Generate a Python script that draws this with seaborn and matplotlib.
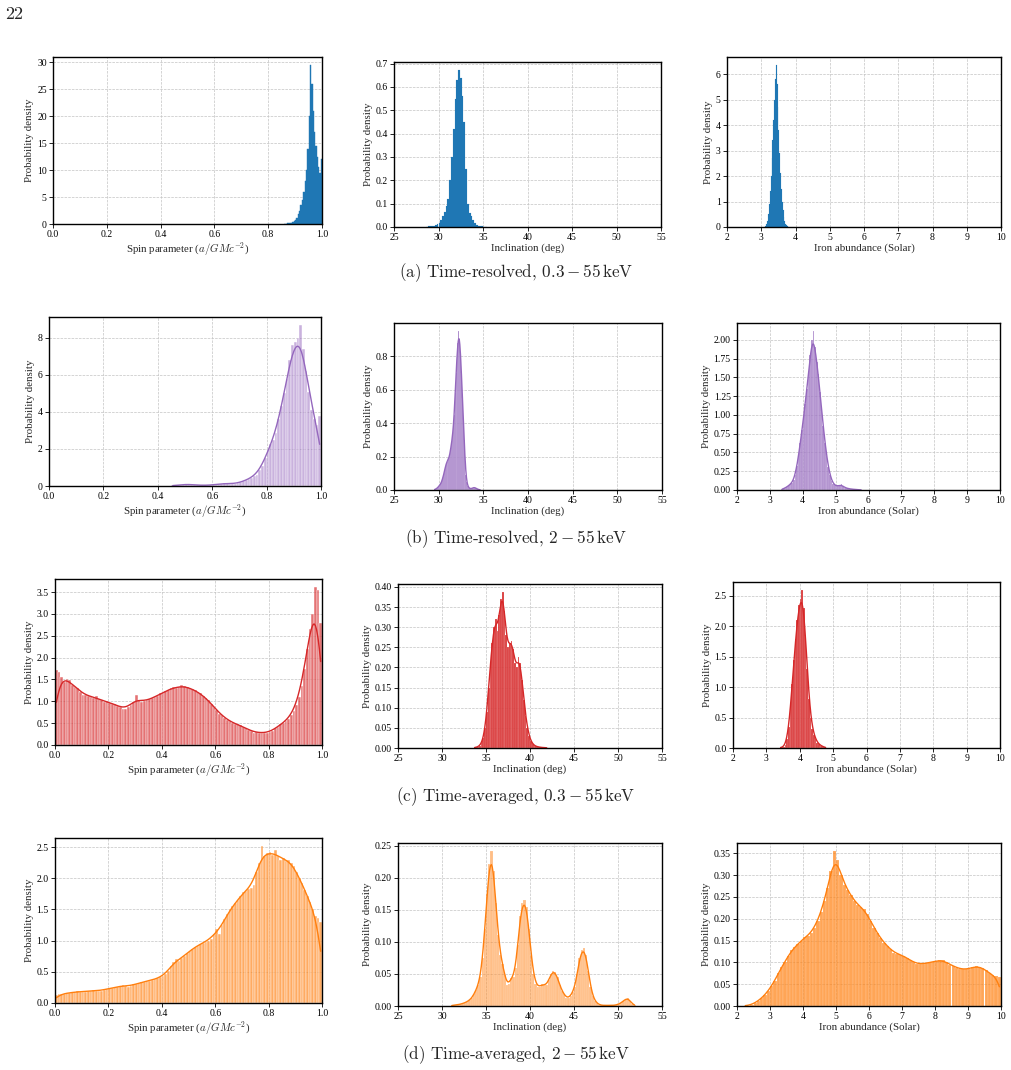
import numpy as np
import matplotlib
matplotlib.use('Agg')
import matplotlib.pyplot as plt
from matplotlib.ticker import MultipleLocator
import seaborn as sns

# Densités (histogrammes des postérieurs)
# chaque panneau : début du premier bin, largeur des bins, densité par bin

# (a) Time-resolved, 0.3 - 55 keV
a_spin_start, a_spin_width = 0.86, 0.005
a_spin_dens = [0.05, 0.07, 0.1, 0.12, 0.15, 0.2, 0.3, 0.5, 0.8, 1.2, 1.8, 2.5, 3.5, 4.5,
               6.0, 8.0, 10.0, 14.0, 20.0, 29.5, 26.0, 21.0, 17.0, 14.5, 12.5, 10.5, 9.5, 12.0]
a_incl_start, a_incl_width = 28.6, 0.2
a_incl_dens = [0.002, 0.003, 0.004, 0.005, 0.006, 0.008, 0.012, 0.018, 0.028, 0.045, 0.065,
               0.09, 0.12, 0.2, 0.3, 0.42, 0.55, 0.63, 0.673, 0.64, 0.56, 0.45, 0.25, 0.1,
               0.06, 0.045, 0.03, 0.018, 0.01, 0.006, 0.004, 0.003, 0.002, 0.001]
a_fe_start, a_fe_width = 3.1, 0.025
a_fe_dens = [0.02, 0.05, 0.12, 0.25, 0.5, 0.9, 1.4, 2.0, 2.7, 3.4, 4.2, 5.0, 5.8, 6.35,
             5.6, 4.7, 3.8, 2.9, 2.1, 1.5, 1.0, 0.65, 0.4, 0.22, 0.12, 0.06, 0.03, 0.01]

# (b) Time-resolved, 2 - 55 keV
b_spin_start, b_spin_width = 0.45, 0.01
b_spin_dens = [0.03, 0.03, 0.04, 0.05, 0.08, 0.12, 0.10, 0.07, 0.05, 0.05, 0.04, 0.04, 0.03,
               0.04, 0.05, 0.07, 0.08, 0.10, 0.12, 0.14, 0.15, 0.13, 0.11, 0.12, 0.16, 0.2,
               0.26, 0.32, 0.38, 0.45, 0.55, 0.62, 0.85, 1.1, 1.5, 1.95, 2.25, 2.5, 2.85, 3.6,
               4.3, 5.0, 5.8, 6.8, 7.6, 7.8, 8.0, 8.7, 7.4, 6.2, 5.1, 4.1, 3.6, 3.3, 3.8]
b_incl_start, b_incl_width = 29.5, 0.1
b_incl_dens = [0.003, 0.005, 0.008, 0.012, 0.018, 0.025, 0.03, 0.04, 0.05, 0.07, 0.09, 0.11,
               0.14, 0.16, 0.17, 0.18, 0.19, 0.21, 0.25, 0.28, 0.32, 0.38, 0.45, 0.58, 0.70,
               0.80, 0.88, 0.95, 0.90, 0.82, 0.70, 0.55, 0.42, 0.30, 0.18, 0.09, 0.045, 0.025,
               0.015, 0.01, 0.008, 0.008, 0.01, 0.014, 0.015, 0.014, 0.012, 0.008, 0.005,
               0.003, 0.002, 0.001]
b_fe_start, b_fe_width = 3.35, 0.05
b_fe_dens = [0.01, 0.02, 0.03, 0.04, 0.06, 0.08, 0.09, 0.13, 0.2, 0.32, 0.45, 0.62, 0.8, 0.95,
             1.15, 1.35, 1.55, 1.8, 2.0, 2.12, 1.9, 1.7, 1.55, 1.3, 1.05, 0.85, 0.62, 0.45,
             0.3, 0.2, 0.12, 0.08, 0.06, 0.05, 0.05, 0.06, 0.08, 0.05, 0.03, 0.025, 0.02,
             0.015, 0.012, 0.01, 0.008, 0.006, 0.004, 0.003, 0.002]

# (c) Time-averaged, 0.3 - 55 keV
c_spin_start, c_spin_width = 0.0, 0.01
c_spin_dens = [1.72, 1.68, 1.55, 1.45, 1.52, 1.48, 1.38, 1.32, 1.30, 1.22, 1.15, 1.15, 1.12,
               1.10, 1.08, 1.12, 1.05, 1.02, 0.98, 1.0, 0.97, 0.95, 0.93, 0.9, 0.86, 0.82,
               0.83, 0.87, 0.92, 0.98, 1.15, 1.02, 0.98, 1.0, 1.02, 1.05, 1.08, 1.1, 1.13,
               1.18, 1.2, 1.23, 1.27, 1.3, 1.32, 1.3, 1.33, 1.38, 1.35, 1.32, 1.3, 1.28, 1.25,
               1.22, 1.18, 1.12, 1.08, 1.02, 0.95, 0.88, 0.8, 0.72, 0.68, 0.62, 0.58, 0.55,
               0.5, 0.48, 0.47, 0.45, 0.42, 0.38, 0.35, 0.32, 0.28, 0.3, 0.27, 0.28, 0.28,
               0.27, 0.3, 0.33, 0.38, 0.42, 0.48, 0.5, 0.55, 0.6, 0.68, 0.78, 0.92, 1.1, 1.35,
               1.75, 2.2, 2.65, 3.0, 3.62, 3.55, 2.8]
c_incl_start, c_incl_width = 33.6, 0.2
c_incl_dens = [0.001, 0.002, 0.003, 0.006, 0.012, 0.025, 0.05, 0.09, 0.15, 0.21, 0.26, 0.30,
               0.32, 0.29, 0.33, 0.37, 0.388, 0.34, 0.28, 0.25, 0.262, 0.265, 0.245, 0.21,
               0.20, 0.225, 0.21, 0.17, 0.12, 0.08, 0.05, 0.03, 0.017, 0.01, 0.006, 0.004,
               0.003, 0.002, 0.0015, 0.001, 0.001, 0.0005]
c_fe_start, c_fe_width = 3.4, 0.05
c_fe_dens = [0.005, 0.01, 0.02, 0.05, 0.15, 0.35, 0.65, 1.05, 1.45, 1.8, 2.1, 2.35, 2.45, 2.6,
             2.3, 1.85, 1.3, 0.8, 0.5, 0.32, 0.22, 0.14, 0.09, 0.06, 0.04, 0.03, 0.015, 0.005]

# (d) Time-averaged, 2 - 55 keV
d_spin_start, d_spin_width = 0.0, 0.01
d_spin_dens = [0.13, 0.14, 0.15, 0.15, 0.16, 0.16, 0.17, 0.17, 0.2, 0.17, 0.18, 0.18, 0.19,
               0.19, 0.21, 0.2, 0.19, 0.2, 0.21, 0.23, 0.24, 0.24, 0.25, 0.26, 0.27, 0.29,
               0.27, 0.26, 0.28, 0.3, 0.3, 0.32, 0.33, 0.34, 0.35, 0.36, 0.37, 0.38, 0.4, 0.41,
               0.43, 0.46, 0.52, 0.6, 0.66, 0.7, 0.68, 0.72, 0.76, 0.8, 0.84, 0.87, 0.9, 0.92,
               0.95, 0.97, 0.98, 1.0, 1.03, 1.1, 1.18, 1.1, 1.25, 1.35, 1.42, 1.5, 1.55, 1.6,
               1.65, 1.72, 1.78, 1.8, 1.83, 1.85, 1.9, 2.1, 2.25, 2.52, 2.35, 2.4, 2.42, 2.38,
               2.45, 2.35, 2.3, 2.33, 2.28, 2.3, 2.25, 2.2, 2.1, 2.0, 1.92, 1.82, 1.72, 1.62,
               1.5, 1.4, 1.36, 1.3]
d_incl_start, d_incl_width = 31.0, 0.25
d_incl_dens = [0.001, 0.001, 0.002, 0.002, 0.003, 0.004, 0.005, 0.007, 0.009, 0.012, 0.018,
               0.025, 0.033, 0.045, 0.075, 0.12, 0.175, 0.222, 0.242, 0.21, 0.16, 0.11, 0.08,
               0.065, 0.048, 0.032, 0.035, 0.044, 0.045, 0.06, 0.095, 0.14, 0.16, 0.165, 0.155,
               0.12, 0.08, 0.05, 0.035, 0.03, 0.03, 0.034, 0.033, 0.032, 0.04, 0.05, 0.055,
               0.053, 0.045, 0.032, 0.024, 0.018, 0.013, 0.012, 0.016, 0.022, 0.03, 0.05,
               0.075, 0.087, 0.09, 0.08, 0.055, 0.03, 0.015, 0.008, 0.004, 0.002, 0.001, 0.001,
               0.001, 0.001, 0.001, 0.001, 0.001, 0.002, 0.003, 0.005, 0.008, 0.011, 0.013,
               0.008, 0.003, 0.001]
d_fe_start, d_fe_width = 2.2, 0.1
d_fe_dens = [0.0005, 0.001, 0.003, 0.007, 0.012, 0.018, 0.025, 0.035, 0.045, 0.058, 0.075,
             0.09, 0.1, 0.115, 0.128, 0.135, 0.142, 0.15, 0.158, 0.16, 0.168, 0.18, 0.195,
             0.215, 0.24, 0.27, 0.31, 0.356, 0.335, 0.3, 0.278, 0.265, 0.255, 0.24, 0.232,
             0.228, 0.222, 0.21, 0.195, 0.18, 0.167, 0.155, 0.145, 0.138, 0.13, 0.122, 0.12,
             0.118, 0.115, 0.11, 0.105, 0.1, 0.097, 0.096, 0.097, 0.098, 0.1, 0.102, 0.103,
             0.105, 0.105, 0.1, 0.095, 0.092, 0.088, 0.085, 0.084, 0.084, 0.085, 0.09, 0.091,
             0.09, 0.087, 0.082, 0.075, 0.07, 0.068, 0.066]

captions = [r'(a) Time-resolved, $0.3-55\,\mathrm{keV}$',
            r'(b) Time-resolved, $2-55\,\mathrm{keV}$',
            r'(c) Time-averaged, $0.3-55\,\mathrm{keV}$',
            r'(d) Time-averaged, $2-55\,\mathrm{keV}$']
xlabels = [r'Spin parameter ($a/GMc^{-2}$)', 'Inclination (deg)', 'Iron abundance (Solar)']

# Style
sns.set_theme(style='ticks')
plt.rcParams['font.family'] = ['Liberation Serif', 'DejaVu Serif']
plt.rcParams['mathtext.fontset'] = 'cm'
plt.rcParams['axes.edgecolor'] = 'black'
plt.rcParams['axes.linewidth'] = 1.0

# (début, largeur, densités, couleur, alpha, kde) pour chaque panneau
rows = [
    [(a_spin_start, a_spin_width, a_spin_dens, '#1f77b4', 1.0, False),
     (a_incl_start, a_incl_width, a_incl_dens, '#1f77b4', 1.0, False),
     (a_fe_start, a_fe_width, a_fe_dens, '#1f77b4', 1.0, False)],
    [(b_spin_start, b_spin_width, b_spin_dens, '#9467bd', 0.5, True),
     (b_incl_start, b_incl_width, b_incl_dens, '#9467bd', 0.85, True),
     (b_fe_start, b_fe_width, b_fe_dens, '#9467bd', 0.75, True)],
    [(c_spin_start, c_spin_width, c_spin_dens, '#d62728', 0.65, True),
     (c_incl_start, c_incl_width, c_incl_dens, '#d62728', 0.9, True),
     (c_fe_start, c_fe_width, c_fe_dens, '#d62728', 0.9, True)],
    [(d_spin_start, d_spin_width, d_spin_dens, '#ff7f0e', 0.65, True),
     (d_incl_start, d_incl_width, d_incl_dens, '#ff7f0e', 0.5, True),
     (d_fe_start, d_fe_width, d_fe_dens, '#ff7f0e', 0.7, True)],
]
xlims = [(0, 1), (25, 55), (2, 10)]
xsteps = [0.2, 5, 1]
ysteps = [[5, 0.1, 1], [2, 0.2, 0.25], [0.5, 0.05, 0.5], [0.5, 0.05, 0.05]]
bw_factor = [2.0, 1.0, 1.3]     # lissage du kde, en largeurs de bin
edge_lw = [0.3, 0.1, 0.1]

# positions des axes en pixels : gauche, haut, droite, bas
boxes = [
    [(53, 57, 322, 224), (394, 62, 661, 227), (727, 57, 1001, 227)],
    [(49, 317, 321, 486), (394, 323, 662, 490), (737, 323, 1000, 490)],
    [(55, 579, 322, 745), (398, 584, 662, 748), (733, 582, 1000, 748)],
    [(55, 838, 322, 1003), (398, 843, 662, 1006), (737, 843, 1001, 1006)],
]
caption_y = [273, 539, 797, 1055]

W, H = 1011, 1070
fig = plt.figure(figsize=(W / 100, H / 100), dpi=100)

for r in range(4):
    for c in range(3):
        start, width, dens, color, alpha, kde = rows[r][c]
        l, t, rr, b = boxes[r][c]
        ax = fig.add_axes([l / W, 1 - b / H, (rr - l) / W, (b - t) / H])
        dens = np.asarray(dens, dtype=float)
        edges = start + width * np.arange(len(dens) + 1)
        centers = edges[:-1] + width / 2
        kde_kws = {'cut': 0}
        if kde:
            sd = np.sqrt(np.cov(centers, aweights=dens))
            kde_kws['bw_method'] = bw_factor[c] * width / sd
        sns.histplot(x=centers, weights=dens, bins=edges.tolist(), stat='count', kde=kde,
                     kde_kws=kde_kws, line_kws={'lw': 1.0}, color=color, alpha=alpha,
                     edgecolor=color if not kde else 'white', linewidth=edge_lw[c], ax=ax)
        ax.set_xlim(*xlims[c])
        ax.xaxis.set_major_locator(MultipleLocator(xsteps[c]))
        ax.yaxis.set_major_locator(MultipleLocator(ysteps[r][c]))
        ax.grid(True, ls='--', lw=0.5, color='#c4c4c4')
        ax.set_axisbelow(True)
        for s in ax.spines.values():
            s.set_visible(True)
            s.set_color('black')
            s.set_linewidth(1.0)
        ax.tick_params(labelsize=7, length=3, width=0.6, pad=1.5, colors='black')
        ax.set_xlabel(xlabels[c], fontsize=7.8, labelpad=1)
        ax.set_ylabel('Probability density', fontsize=7.8, labelpad=2)

    fig.text(516 / W, 1 - caption_y[r] / H, captions[r], family='cmr10', fontsize=12.3,
             ha='center', va='center')

fig.text(5 / W, 1 - 14 / H, '22', family='cmr10', fontsize=13, ha='left', va='center')

fig.savefig('out.png', dpi=100)
